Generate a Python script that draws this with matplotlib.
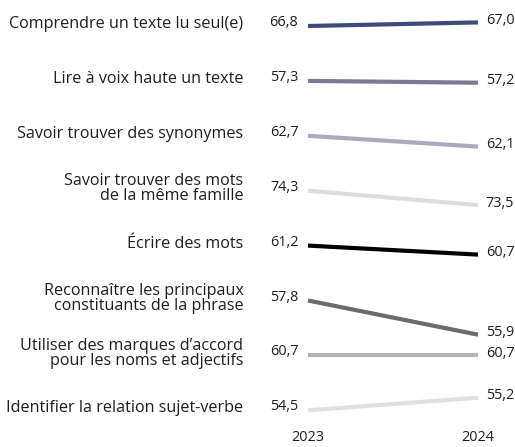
import matplotlib
matplotlib.use("Agg")
import matplotlib.pyplot as plt

# Data
categories = [
    "Comprendre un texte lu seul(e)",
    "Lire à voix haute un texte",
    "Savoir trouver des synonymes",
    "Savoir trouver des mots\nde la même famille",
    "Écrire des mots",
    "Reconnaître les principaux\nconstituants de la phrase",
    "Utiliser des marques d’accord\npour les noms et adjectifs",
    "Identifier la relation sujet-verbe",
]
values_2023 = [66.8, 57.3, 62.7, 74.3, 61.2, 57.8, 60.7, 54.5]
values_2024 = [67.0, 57.2, 62.1, 73.5, 60.7, 55.9, 60.7, 55.2]
years = [2023, 2024]

colors = ["#3c4a7e", "#767b97", "#a8abbd", "#dcdde3",
          "#000000", "#6b6b6b", "#b3b3b3", "#e0e0e0"]

plt.rcParams["font.family"] = ["Open Sans", "DejaVu Sans"]

fig = plt.figure(figsize=(5.15, 4.47), dpi=100)
ax = fig.add_axes([0, 0, 1, 1])

row_gap = 3.05  # vertical spacing between rows, in score points
px_per_unit = 18.0

def fmt(v):
    return f"{v:.1f}".replace(".", ",")

for i, cat in enumerate(categories):
    base = -i * row_gap
    y0 = base
    y1 = base + (values_2024[i] - values_2023[i])
    ax.plot(years, [y0, y1], color=colors[i], lw=3.0, solid_capstyle="butt")

    ax.annotate(cat, (years[0], y0), xytext=(-46.5, 1.5), textcoords="offset points",
                ha="right", va="center", fontsize=11.6, color="#1e1e1e",
                linespacing=0.93)
    ax.annotate(fmt(values_2023[i]), (years[0], y0), xytext=(-7, 2.5),
                textcoords="offset points", ha="right", va="center",
                fontsize=10.4, color="#1e1e1e")
    ax.annotate(fmt(values_2024[i]), (years[1], y1), xytext=(5.5, 1.5),
                textcoords="offset points", ha="left", va="center",
                fontsize=10.4, color="#1e1e1e")

for yr in years:
    ax.text(yr, 0.022, str(yr), transform=ax.get_xaxis_transform(),
            ha="center", va="center", fontsize=10.4, color="#1e1e1e")

ax.set_xlim(2023 - 308 / 170, 2024 + 37 / 170)
top = 26 / px_per_unit
ax.set_ylim(top - 447 / px_per_unit, top)
ax.axis("off")

fig.savefig("out.png", dpi=100)
